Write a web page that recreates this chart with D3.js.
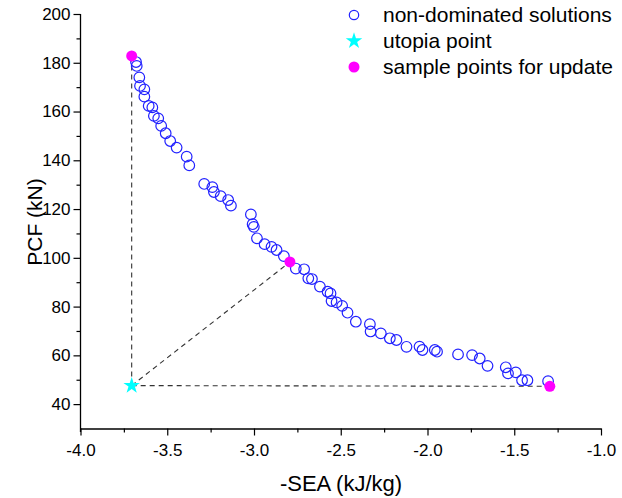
<!DOCTYPE html>
<html><head><meta charset="utf-8">
<script src="https://cdn.jsdelivr.net/npm/d3@7"></script>
<style>body{margin:0;background:#fff;} text{font-family:Arial,"Liberation Sans",sans-serif;}</style>
</head><body>
<svg id="c" width="622" height="498"></svg>
<script>
const seaValues = [-3.680,-3.676,-3.661,-3.657,-3.632,-3.632,-3.607,-3.586,-3.577,-3.552,-3.535,-3.509,-3.483,-3.446,-3.388,-3.373,-3.287,-3.240,-3.231,-3.192,-3.149,-3.133,-3.018,-3.008,-3.001,-2.983,-2.939,-2.899,-2.870,-2.828,-2.759,-2.711,-2.687,-2.666,-2.620,-2.576,-2.559,-2.553,-2.524,-2.492,-2.461,-2.413,-2.332,-2.328,-2.269,-2.217,-2.179,-2.121,-2.046,-2.029,-1.958,-1.945,-1.824,-1.743,-1.699,-1.654,-1.549,-1.536,-1.491,-1.455,-1.424,-1.305];
const pcfValues = [180.3,178.7,174.0,170.5,169.1,166.1,162.3,161.7,158.2,157.2,154.1,151.1,147.9,145.2,141.5,137.9,130.3,129.0,127.0,125.3,123.7,121.4,117.8,113.8,112.7,108.0,105.6,104.5,103.2,100.7,95.6,95.3,91.6,91.3,88.2,86.1,85.4,82.3,81.7,80.3,77.5,73.8,72.8,69.8,69.0,67.0,66.3,63.5,63.6,62.2,62.2,61.5,60.4,60.1,58.7,55.7,55.1,52.6,53.0,49.8,49.8,49.4];
const utopiaX = [-3.705];
const utopiaY = [47.6];
const sampleX = [-3.705,-2.793,-1.295];
const sampleY = [182.8,98.3,47.3];
const xTicks = [-4.0,-3.5,-3.0,-2.5,-2.0,-1.5,-1.0];
const yTicks = [40,60,80,100,120,140,160,180,200];
const legendLabels = ["non-dominated solutions","utopia point","sample points for update"];

const svg = d3.select("#c");
const x = d3.scaleLinear().domain([-4,-1]).range([80.5,601]);
const y = d3.scaleLinear().domain([30,200]).range([428.5,14]);

// axes
const xAxis = d3.axisBottom(x).tickValues(xTicks).tickFormat(d => d.toFixed(1)).tickSize(7).tickPadding(8).tickSizeOuter(0);
const gx = svg.append("g").attr("transform","translate(0,428.5)").call(xAxis);
const xMinor = d3.axisBottom(x).tickValues(d3.range(-3.75,-1,0.5)).tickFormat("").tickSize(4).tickSizeOuter(0);
svg.append("g").attr("transform","translate(0,428.5)").call(xMinor).select(".domain").remove();
const yAxis = d3.axisLeft(y).tickValues(yTicks).tickSize(7).tickPadding(3).tickSizeOuter(0);
const gy = svg.append("g").attr("transform","translate(80.5,0)").call(yAxis);
const yMinor = d3.axisLeft(y).tickValues(d3.range(50,200,20)).tickFormat("").tickSize(4).tickSizeOuter(0);
svg.append("g").attr("transform","translate(80.5,0)").call(yMinor).select(".domain").remove();
svg.selectAll(".domain").attr("stroke","#000").attr("stroke-width",1.3);
svg.selectAll(".tick line").attr("stroke","#000").attr("stroke-width",1.2);
gx.selectAll("text").attr("font-size",17).attr("fill","#000");
gy.selectAll("text").attr("font-size",17).attr("fill","#000");
gy.select(".domain").attr("d","M0,14V432");

svg.append("text").attr("x",341).attr("y",491).attr("text-anchor","middle").attr("font-size",22).text("-SEA (kJ/kg)");
svg.append("text").attr("transform","translate(42,222) rotate(-90)").attr("text-anchor","middle").attr("font-size",21).text("PCF (kN)");

// dashed lines
const lineStyle = s => s.attr("stroke","#333").attr("stroke-width",1.1).attr("stroke-dasharray","5,4").attr("fill","none");
sampleX.forEach((sx,i)=>{
  svg.append("line").call(lineStyle)
    .attr("x1",x(utopiaX[0])).attr("y1",y(utopiaY[0]))
    .attr("x2",x(sx)).attr("y2",y(sampleY[i]));
});

// circles
svg.append("g").selectAll("circle").data(seaValues.map((v,i)=>[v,pcfValues[i]])).join("circle")
  .attr("cx",d=>x(d[0])).attr("cy",d=>y(d[1])).attr("r",5.3)
  .attr("fill","none").attr("stroke","#2222ff").attr("stroke-width",1.2);

// utopia star
const star = d3.symbol().type(d3.symbolStar).size(85);
svg.append("path").attr("d",star()).attr("transform",`translate(${x(utopiaX[0])},${y(utopiaY[0])})`).attr("fill","#00ffff");

// sample points
svg.append("g").selectAll("circle").data(sampleX.map((v,i)=>[v,sampleY[i]])).join("circle")
  .attr("cx",d=>x(d[0])).attr("cy",d=>y(d[1])).attr("r",5.5).attr("fill","#ff00ff");

// legend
const lg = svg.append("g");
const ly = [15,41,67];
lg.append("circle").attr("cx",354).attr("cy",ly[0]).attr("r",4.7).attr("fill","none").attr("stroke","#2222ff").attr("stroke-width",1.2);
lg.append("path").attr("d",star()).attr("transform",`translate(354,${ly[1]})`).attr("fill","#00ffff");
lg.append("circle").attr("cx",354).attr("cy",ly[2]).attr("r",5.5).attr("fill","#ff00ff");
legendLabels.forEach((t,i)=>{
  lg.append("text").attr("x",383).attr("y",ly[i]).attr("dy","0.35em").attr("font-size",21).text(t);
});
</script>
</body></html>
